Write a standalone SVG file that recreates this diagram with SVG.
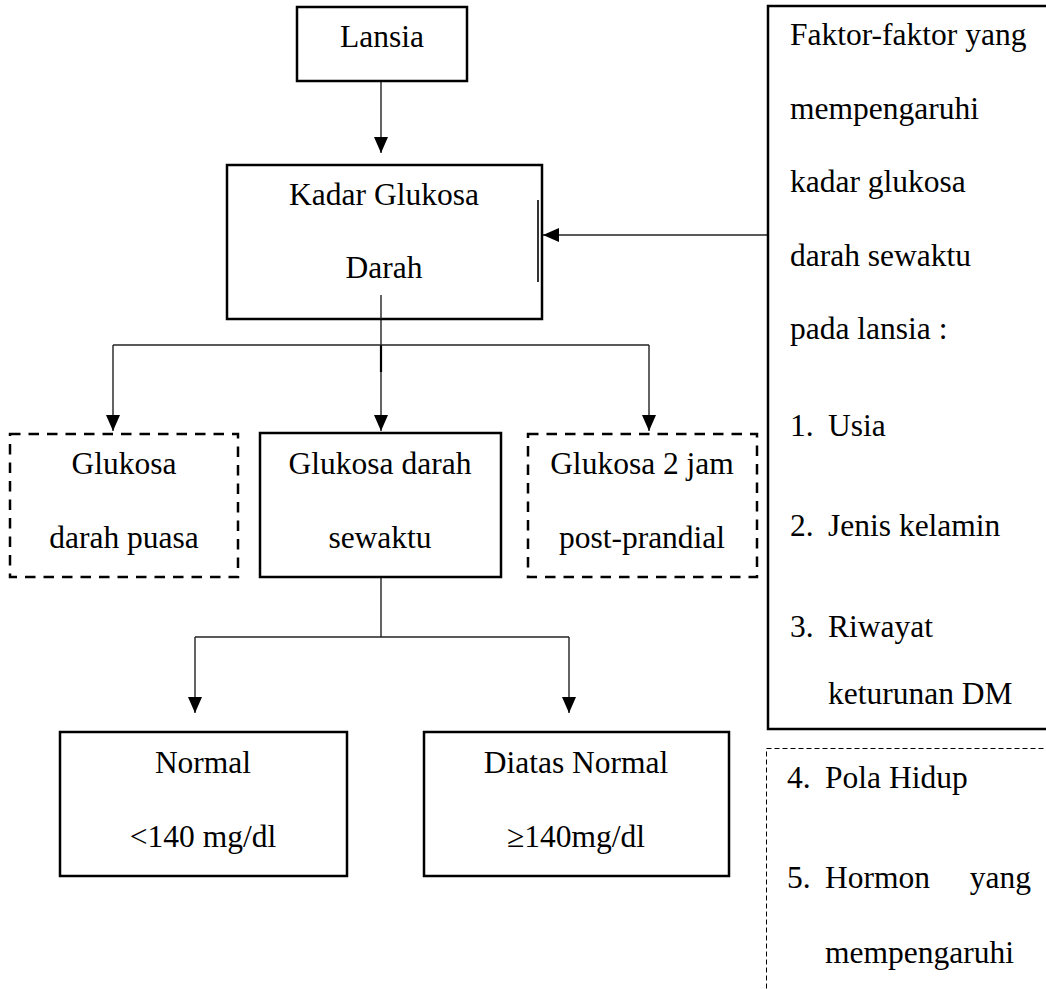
<svg xmlns="http://www.w3.org/2000/svg" width="1046" height="989" viewBox="0 0 1046 989">
<defs>
<style>
text{font-family:"Liberation Serif","Times New Roman",serif;font-size:31.5px;fill:#000}
.c{text-anchor:middle}
.box{fill:#fff;stroke:#000;stroke-width:2.5}
.dash{fill:#fff;stroke:#000;stroke-width:2.5;stroke-dasharray:10.5 8}
.thin{fill:none;stroke:#000;stroke-width:1;stroke-dasharray:5 3}
.ln{fill:none;stroke:#222;stroke-width:1.4}
</style>
<marker id="ah" markerUnits="userSpaceOnUse" markerWidth="16" markerHeight="16" refX="16" refY="7" orient="auto">
<path d="M0,0 L16,7 L0,14 z" fill="#000"/>
</marker>
</defs>
<rect width="1046" height="989" fill="#fff"/>
<g id="connectors">
<line class="ln" x1="381" y1="81" x2="381" y2="153" marker-end="url(#ah)"/>
<line class="ln" x1="381" y1="295" x2="381" y2="431" marker-end="url(#ah)"/>
<line x1="381" y1="345" x2="381" y2="372" stroke="#000" stroke-width="2.2"/>
<line class="ln" x1="113" y1="345" x2="649" y2="345"/>
<line class="ln" x1="113" y1="345" x2="113" y2="431" marker-end="url(#ah)"/>
<line class="ln" x1="649" y1="345" x2="649" y2="431" marker-end="url(#ah)"/>
<line class="ln" x1="768" y1="235" x2="543" y2="235" marker-end="url(#ah)"/>
<line class="ln" x1="381" y1="577" x2="381" y2="637"/>
<line class="ln" x1="195" y1="637" x2="569" y2="637"/>
<line class="ln" x1="195" y1="637" x2="195" y2="713" marker-end="url(#ah)"/>
<line class="ln" x1="569" y1="637" x2="569" y2="713" marker-end="url(#ah)"/>
</g>
<g id="lansia">
<rect class="box" x="297" y="7" width="170" height="74"/>
<text class="c" x="382" y="47">Lansia</text>
</g>
<g id="kadar">
<rect class="box" x="227" y="165" width="315" height="154"/>
<line x1="538" y1="200" x2="538" y2="282" stroke="#000" stroke-width="1.6"/>
<line class="ln" x1="381" y1="295" x2="381" y2="319"/>
<text class="c" x="384" y="205">Kadar Glukosa</text>
<text class="c" x="384" y="278">Darah</text>
</g>
<g id="puasa">
<rect class="dash" x="10" y="434" width="228" height="143"/>
<text class="c" x="124" y="474">Glukosa</text>
<text class="c" x="124" y="548">darah puasa</text>
</g>
<g id="sewaktu">
<rect class="box" x="260" y="433" width="241" height="144"/>
<text class="c" x="380" y="474">Glukosa darah</text>
<text class="c" x="380" y="548">sewaktu</text>
</g>
<g id="postprandial">
<rect class="dash" x="528" y="434" width="229" height="143"/>
<text class="c" x="642" y="474">Glukosa 2 jam</text>
<text class="c" x="642" y="548">post-prandial</text>
</g>
<g id="normal">
<rect class="box" x="60" y="732" width="287" height="144"/>
<text class="c" x="203" y="773">Normal</text>
<text class="c" x="203" y="847">&lt;140 mg/dl</text>
</g>
<g id="diatas">
<rect class="box" x="424" y="732" width="305" height="144"/>
<text class="c" x="576" y="773">Diatas Normal</text>
<text class="c" x="576" y="847">≥140mg/dl</text>
</g>
<g id="faktor">
<rect class="box" x="768" y="6" width="290" height="723"/>
<text x="790" y="45">Faktor-faktor yang</text>
<text x="790" y="119">mempengaruhi</text>
<text x="790" y="192">kadar glukosa</text>
<text x="790" y="266">darah sewaktu</text>
<text x="790" y="339">pada lansia :</text>
<text x="790" y="436">1.</text><text x="828" y="436">Usia</text>
<text x="790" y="536">2.</text><text x="828" y="536">Jenis kelamin</text>
<text x="790" y="637">3.</text><text x="828" y="637">Riwayat</text>
<text x="828" y="704">keturunan DM</text>
</g>
<g id="faktor-lain">
<rect class="thin" x="766.5" y="748.5" width="300" height="260"/>
<text x="787" y="788">4.</text><text x="825" y="788">Pola Hidup</text>
<text x="787" y="888">5.</text><text x="825" y="888">Hormon</text>
<text x="1031" y="888" text-anchor="end">yang</text>
<text x="825" y="963">mempengaruhi</text>
</g>
</svg>
